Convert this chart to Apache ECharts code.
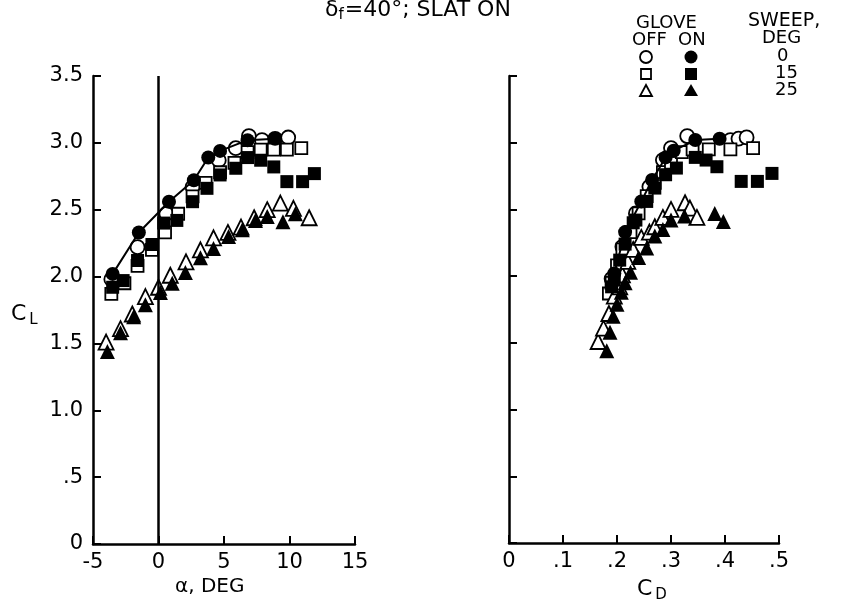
<!DOCTYPE html>
<html>
<head>
<meta charset="utf-8">
<script src="https://cdn.jsdelivr.net/npm/echarts@6/dist/echarts.min.js"></script>
<style>
  html, body { margin: 0; padding: 0; background: #fff; }
  #chart { width: 849px; height: 604px; }
</style>
</head>
<body>
<div id="chart"></div>
<script>
// sweep 0, glove on (filled circles)
const onAlpha0 = [-3.5, -1.5, 0.8, 2.7, 3.8, 4.7, 6.8, 8.9];
const onCl0 = [2.02, 2.33, 2.56, 2.72, 2.89, 2.94, 3.02, 3.03];
const onCd0 = [0.195, 0.215, 0.245, 0.265, 0.29, 0.305, 0.345, 0.39];
// sweep 0, glove off (open circles)
const offAlpha0 = [-3.6, -1.6, 0.6, 2.6, 4.6, 5.9, 6.9, 7.9, 8.9, 9.9];
const offCl0 = [1.98, 2.22, 2.47, 2.67, 2.87, 2.96, 3.05, 3.02, 3.03, 3.04];
const offCd0 = [0.19, 0.21, 0.235, 0.26, 0.285, 0.30, 0.33, 0.41, 0.425, 0.44];
// sweep 15, glove on (filled squares)
const onAlpha15 = [-3.5, -2.7, -1.6, -0.5, 0.4, 1.4, 2.6, 3.7, 4.7, 5.9, 6.8, 7.8, 8.8, 9.8, 11.0, 11.9];
const onCl15 = [1.92, 1.97, 2.12, 2.24, 2.40, 2.42, 2.56, 2.66, 2.76, 2.81, 2.89, 2.87, 2.82, 2.71, 2.71, 2.77];
const onCd15 = [0.19, 0.195, 0.205, 0.215, 0.23, 0.235, 0.255, 0.27, 0.29, 0.31, 0.345, 0.365, 0.385, 0.43, 0.46, 0.487];
// sweep 15, glove off (open squares)
const offAlpha15 = [-3.6, -2.6, -1.6, -0.5, 0.5, 1.5, 2.6, 3.6, 4.7, 5.8, 6.8, 7.8, 8.8, 9.8, 10.9];
const offCl15 = [1.87, 1.95, 2.08, 2.20, 2.33, 2.47, 2.60, 2.70, 2.78, 2.85, 2.93, 2.95, 2.95, 2.95, 2.96];
const offCd15 = [0.185, 0.19, 0.20, 0.21, 0.225, 0.24, 0.255, 0.27, 0.285, 0.30, 0.32, 0.34, 0.37, 0.41, 0.452];
// sweep 25, glove off (open triangles)
const offAlpha25 = [-4.0, -2.9, -2.0, -1.0, 0, 0.9, 2.1, 3.2, 4.2, 5.3, 6.3, 7.3, 8.3, 9.3, 10.3, 11.5];
const offCl25 = [1.51, 1.61, 1.72, 1.85, 1.92, 2.01, 2.11, 2.20, 2.29, 2.33, 2.37, 2.44, 2.50, 2.55, 2.51, 2.44];
const offCd25 = [0.165, 0.175, 0.185, 0.195, 0.205, 0.21, 0.22, 0.23, 0.245, 0.26, 0.27, 0.285, 0.30, 0.326, 0.335, 0.348];
// sweep 25, glove on (filled triangles)
const onAlpha25 = [-3.9, -2.9, -1.9, -1.0, 0.15, 1.05, 2.05, 3.2, 4.2, 5.35, 6.4, 7.4, 8.3, 9.5, 10.45];
const onCl25 = [1.44, 1.58, 1.70, 1.79, 1.88, 1.95, 2.03, 2.14, 2.21, 2.30, 2.35, 2.42, 2.45, 2.41, 2.47];
const onCd25 = [0.181, 0.187, 0.193, 0.20, 0.208, 0.215, 0.225, 0.24, 0.255, 0.27, 0.285, 0.30, 0.325, 0.397, 0.381];

const alphaTicks = [-5, 0, 5, 10, 15];
const cdTicks = [0, 0.1, 0.2, 0.3, 0.4, 0.5];
const clTicks = [0, 0.5, 1.0, 1.5, 2.0, 2.5, 3.0, 3.5];

const FONT = 'DejaVu Sans';
const zip = (a, b) => a.map((v, i) => [v, b[i]]);

const sets = [
  {x: offAlpha0, cd: offCd0, cl: offCl0, symbol: 'circle', size: 14, filled: false, line: false},
  {x: offAlpha15, cd: offCd15, cl: offCl15, symbol: 'rect', size: 12, filled: false, line: false},
  {x: offAlpha25, cd: offCd25, cl: offCl25, symbol: 'triangle', size: 15, filled: false, line: false},
  {x: onAlpha15, cd: onCd15, cl: onCl15, symbol: 'rect', size: 13, filled: true, line: false},
  {x: onAlpha25, cd: onCd25, cl: onCl25, symbol: 'triangle', size: 15, filled: true, line: false},
  {x: onAlpha0, cd: onCd0, cl: onCl0, symbol: 'circle', size: 14, filled: true, line: true},
];

function makeSeries(s, idx, right) {
  return {
    type: s.line ? 'line' : 'scatter',
    xAxisIndex: idx,
    yAxisIndex: idx,
    data: zip(right ? s.cd : s.x, s.cl),
    symbol: s.symbol,
    symbolSize: s.size,
    showSymbol: true,
    lineStyle: {color: '#000', width: 2},
    itemStyle: {
      color: s.filled ? '#000' : '#fff',
      borderColor: '#000',
      borderWidth: s.filled ? 0 : 1.8,
      opacity: 1
    },
    emphasis: {disabled: true},
    animation: false,
    z: s.filled ? 3 : 2
  };
}

const series = [];
sets.forEach(s => series.push(makeSeries(s, 0, false)));
sets.forEach(s => series.push(makeSeries(s, 1, true)));
// vertical line at alpha = 0
series[0].markLine = {
  silent: true,
  symbol: ['none', 'none'],
  label: {show: false},
  lineStyle: {color: '#000', width: 2.5, type: 'solid'},
  data: [{xAxis: 0}]
};

const axisLine = {show: true, onZero: false, lineStyle: {color: '#000', width: 2.5}};
const tickStyle = {show: true, inside: true, length: 8, lineStyle: {color: '#000', width: 2}};
const labelStyle = {color: '#000', fontFamily: FONT, fontSize: 21};

const yFmt = v => v === 0 ? '0' : (v < 1 ? '.' + Math.round(v * 10) : v.toFixed(1));
const cdFmt = v => v === 0 ? '0' : '.' + Math.round(v * 10);

const txt = (left, top, text, size) =>
  ({type: 'text', left, top, style: {text, fontFamily: FONT, fontSize: size, fill: '#000'}});

const option = {
  backgroundColor: '#fff',
  animation: false,
  grid: [
    {left: 93, top: 76, width: 262, height: 468},
    {left: 509, top: 76, width: 270, height: 467}
  ],
  xAxis: [
    {gridIndex: 0, type: 'value', min: alphaTicks[0], max: alphaTicks[alphaTicks.length - 1], interval: 5,
     axisLine, axisTick: tickStyle, splitLine: {show: false},
     axisLabel: {...labelStyle, margin: 8, formatter: v => String(v)}},
    {gridIndex: 1, type: 'value', min: cdTicks[0], max: cdTicks[cdTicks.length - 1], interval: 0.1,
     axisLine, axisTick: tickStyle, splitLine: {show: false},
     axisLabel: {...labelStyle, margin: 8, formatter: cdFmt}}
  ],
  yAxis: [
    {gridIndex: 0, type: 'value', min: clTicks[0], max: clTicks[clTicks.length - 1], interval: 0.5,
     axisLine, axisTick: tickStyle, splitLine: {show: false},
     axisLabel: {...labelStyle, margin: 10, formatter: yFmt}},
    {gridIndex: 1, type: 'value', min: clTicks[0], max: clTicks[clTicks.length - 1], interval: 0.5,
     axisLine, axisTick: tickStyle, splitLine: {show: false},
     axisLabel: {show: false}}
  ],
  graphic: [
    // title
    {type: 'text', left: 325, top: -1, style: {
      text: '{a|δ}{s|f}{a|=40°; SLAT ON}',
      rich: {
        a: {fontFamily: FONT, fontSize: 22, fill: '#000'},
        s: {fontFamily: FONT, fontSize: 15, fill: '#000', verticalAlign: 'bottom', padding: [10, 1, 0, 0]}
      }
    }},
    // axis titles
    {type: 'text', left: 11, top: 303, style: {
      text: '{c|C}{s|L}',
      rich: {
        c: {fontFamily: FONT, fontSize: 22, fill: '#000'},
        s: {fontFamily: FONT, fontSize: 15, fill: '#000', padding: [12, 0, 0, 3]}
      }
    }},
    txt(175, 577, 'α, DEG', 20),
    {type: 'text', left: 637, top: 578, style: {
      text: '{c|C}{s|D}',
      rich: {
        c: {fontFamily: FONT, fontSize: 22, fill: '#000'},
        s: {fontFamily: FONT, fontSize: 15, fill: '#000', padding: [12, 0, 0, 3]}
      }
    }},
    // legend key
    txt(636, 14, 'GLOVE', 18),
    txt(632, 31, 'OFF', 18),
    txt(678, 31, 'ON', 18),
    txt(748, 12, 'SWEEP,', 19),
    txt(762, 29, 'DEG', 18),
    txt(777, 47, '0', 18),
    txt(775, 64, '15', 18),
    txt(775, 81, '25', 18),
    {type: 'circle', shape: {cx: 646, cy: 57, r: 6}, style: {fill: '#fff', stroke: '#000', lineWidth: 1.8}},
    {type: 'circle', shape: {cx: 691, cy: 57, r: 6.5}, style: {fill: '#000'}},
    {type: 'rect', shape: {x: 641, y: 69, width: 10, height: 10}, style: {fill: '#fff', stroke: '#000', lineWidth: 1.8}},
    {type: 'rect', shape: {x: 685, y: 68, width: 12, height: 12}, style: {fill: '#000'}},
    {type: 'polygon', shape: {points: [[646, 85], [640, 96], [652, 96]]}, style: {fill: '#fff', stroke: '#000', lineWidth: 1.8}},
    {type: 'polygon', shape: {points: [[691, 84], [684, 96], [698, 96]]}, style: {fill: '#000'}}
  ],
  series
};

const chart = echarts.init(document.getElementById('chart'), null, {renderer: 'canvas'});
chart.setOption(option);
</script>
</body>
</html>
